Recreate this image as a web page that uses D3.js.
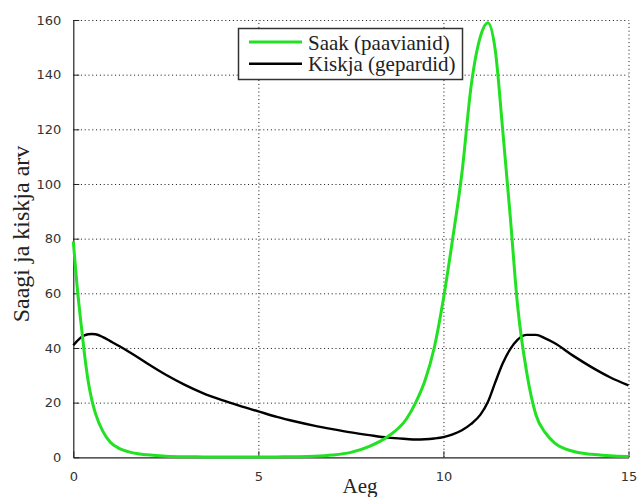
<!DOCTYPE html>
<html>
<head>
<meta charset="utf-8">
<script src="https://cdn.jsdelivr.net/npm/d3@7"></script>
<style>
  body { margin: 0; background: #fff; }
  svg { display: block; }
  .serif { font-family: "Times New Roman", "Liberation Serif", Times, serif; }
</style>
</head>
<body>
<div id="wrapper"></div>
<script>
// time points (Aeg)
const aeg = [0, 0.1, 0.2, 0.3, 0.4, 0.5, 0.6, 0.8, 1.0, 1.25, 1.5, 1.75, 2.0, 2.5, 3.0, 3.5, 4.0, 4.5,
  5.0, 5.5, 6.0, 6.5, 7.0, 7.5, 8.0, 8.5, 9.0, 9.25, 9.5, 9.75, 10.0, 10.25, 10.5, 10.75, 11.0, 11.2,
  11.4, 11.6, 11.8, 12.0, 12.25, 12.5, 12.75, 13.0, 13.5, 14.0, 14.5, 15.0]

// prey (baboons)
const saak = [79, 63, 50, 38, 28, 21, 16, 9.5, 5.5, 3.2, 2.0, 1.3, 0.9, 0.4, 0.2, 0.15, 0.1, 0.1,
  0.1, 0.15, 0.2, 0.35, 0.8, 1.8, 4.0, 7.6, 14, 20, 28, 40, 58, 80, 104, 136, 154, 159,
  149, 120, 89, 56, 31, 15.5, 9, 5.3, 2.2, 1.1, 0.6, 0.3]

// predator (cheetahs)
const kiskja = [41, 42.5, 43.8, 44.6, 45, 45.1, 45, 44.0, 42.5, 40.6, 38.6, 36.5, 34.3, 30.2, 26.6, 23.5, 21, 18.8,
  16.8, 14.8, 13.1, 11.6, 10.3, 9.1, 8.1, 7.2, 6.7, 6.5, 6.6, 6.9, 7.4, 8.4, 9.9, 12.2, 15.6, 20.2,
  27.4, 34.3, 39.5, 43, 44.8, 44.8, 43.5, 41.8, 37.2, 33, 29.3, 26.3]

const xTicks = [0, 5, 10, 15]
const yTicks = [0, 20, 40, 60, 80, 100, 120, 140, 160]
const legendLabels = ["Saak (paavianid)", "Kiskja (gepardid)"]

const width = 638
const height = 497
const margin = { top: 20, right: 9.5, bottom: 39.7, left: 73.3 }

const svg = d3.select("#wrapper").append("svg")
  .attr("width", width)
  .attr("height", height)

const x = d3.scaleLinear().domain([0, 15]).range([margin.left, width - margin.right])
const y = d3.scaleLinear().domain([0, 160]).range([height - margin.bottom, margin.top])

// dotted grid
svg.append("g")
  .attr("transform", `translate(0,${y(0)})`)
  .call(d3.axisBottom(x).tickValues(xTicks.slice(1)).tickSize(-(y(0) - y(160))).tickFormat(""))
  .call(g => g.select(".domain").remove())
  .selectAll("line")
    .attr("stroke", "#111")
    .attr("stroke-dasharray", "1,2.8")

svg.append("g")
  .attr("transform", `translate(${x(0)},0)`)
  .call(d3.axisLeft(y).tickValues(yTicks.slice(1)).tickSize(-(x(15) - x(0))).tickFormat(""))
  .call(g => g.select(".domain").remove())
  .selectAll("line")
    .attr("stroke", "#111")
    .attr("stroke-dasharray", "1,2.8")

// axes with inward ticks
const xAxis = svg.append("g")
  .attr("transform", `translate(0,${y(0)})`)
  .call(d3.axisBottom(x).tickValues(xTicks).tickSizeInner(-6).tickSizeOuter(0).tickPadding(14))
xAxis.select(".domain").attr("stroke", "#222").attr("stroke-width", 1.2)
xAxis.selectAll("line").attr("stroke", "#222")
xAxis.selectAll("text")
  .attr("font-family", "DejaVu Sans")
  .attr("font-size", 13)
  .attr("fill", "#333")

const yAxis = svg.append("g")
  .attr("transform", `translate(${x(0)},0)`)
  .call(d3.axisLeft(y).tickValues(yTicks).tickSizeInner(-6).tickSizeOuter(0).tickPadding(12))
yAxis.select(".domain").attr("stroke", "#222").attr("stroke-width", 1.2)
yAxis.selectAll("line").attr("stroke", "#222")
yAxis.selectAll("text")
  .attr("font-family", "DejaVu Sans")
  .attr("font-size", 13)
  .attr("fill", "#333")

// curves
const points = aeg.map((t, i) => ({ t, saak: saak[i], kiskja: kiskja[i] }))

const kiskjaLine = d3.line()
  .x(d => x(d.t))
  .y(d => y(d.kiskja))
  .curve(d3.curveMonotoneX)

const saakLine = d3.line()
  .x(d => x(d.t))
  .y(d => y(d.saak))
  .curve(d3.curveMonotoneX)

svg.append("path")
  .attr("d", kiskjaLine(points))
  .attr("fill", "none")
  .attr("stroke", "#000")
  .attr("stroke-width", 2.4)

svg.append("path")
  .attr("d", saakLine(points))
  .attr("fill", "none")
  .attr("stroke", "#22e022")
  .attr("stroke-width", 3)

// legend
const legend = svg.append("g")
legend.append("rect")
  .attr("x", 238.5).attr("y", 28.5)
  .attr("width", 224).attr("height", 51)
  .attr("fill", "#fff")
  .attr("stroke", "#333")
  .attr("stroke-width", 1.5)

const legendColors = ["#22e022", "#000"]
legendLabels.forEach((label, i) => {
  const ly = 42 + i * 21.7
  legend.append("line")
    .attr("x1", 249).attr("x2", 302)
    .attr("y1", ly).attr("y2", ly)
    .attr("stroke", legendColors[i])
    .attr("stroke-width", i === 0 ? 3 : 2.4)
  legend.append("text")
    .attr("class", "serif")
    .attr("x", 308)
    .attr("y", ly + 7.5)
    .attr("font-size", 21)
    .attr("fill", "#222")
    .text(label)
})

// axis titles
svg.append("text")
  .attr("class", "serif")
  .attr("x", 360)
  .attr("y", 493)
  .attr("text-anchor", "middle")
  .attr("font-size", 21)
  .attr("fill", "#222")
  .text("Aeg")

svg.append("text")
  .attr("class", "serif")
  .attr("transform", `translate(29,234) rotate(-90)`)
  .attr("text-anchor", "middle")
  .attr("font-size", 24)
  .attr("fill", "#222")
  .text("Saagi ja kiskja arv")
</script>
</body>
</html>
